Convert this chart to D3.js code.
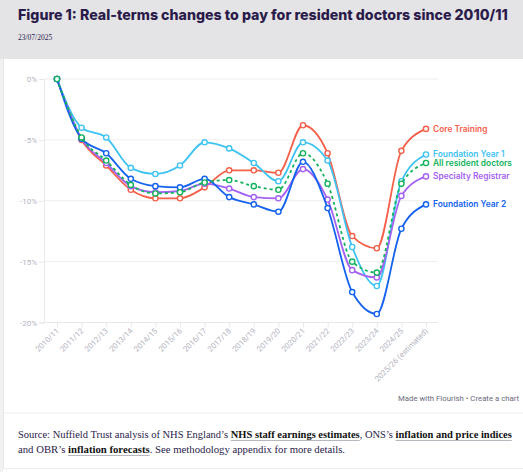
<!DOCTYPE html>
<html><head><meta charset="utf-8">
<script src="https://cdn.jsdelivr.net/npm/d3@7"></script>
<style>
html,body{margin:0;padding:0;background:#fff;overflow:hidden;}
svg{display:block;}
</style></head>
<body>
<svg id="c" width="523" height="472"></svg>
<script>
const years = ["2010/11","2011/12","2012/13","2013/14","2014/15","2015/16","2016/17","2017/18","2018/19","2019/20","2020/21","2021/22","2022/23","2023/24","2024/25","2025/26 (estimated)"];
const coreTraining   = [0,-5.0,-7.1,-9.1,-9.8,-9.8,-8.9,-7.5,-7.5,-7.7,-3.8,-6.1,-12.9,-13.9,-5.9,-4.1];
const foundationY1   = [0,-4.0,-4.8,-7.3,-7.8,-7.1,-5.2,-5.7,-6.9,-8.4,-5.2,-6.7,-13.8,-17.0,-8.4,-6.2];
const specialtyReg   = [0,-4.9,-6.9,-8.8,-9.3,-9.2,-8.6,-9.0,-9.7,-9.8,-7.4,-9.9,-15.7,-16.3,-9.6,-8.0];
const foundationY2   = [0,-4.9,-6.1,-8.2,-8.8,-8.9,-8.2,-9.7,-10.3,-10.9,-6.8,-10.6,-17.5,-19.3,-12.3,-10.3];
const allResident    = [0,-4.8,-6.7,-8.7,-9.4,-9.3,-8.5,-8.3,-8.8,-9.1,-6.1,-8.6,-15.0,-15.9,-8.6,-6.9];
const yTicks = [0,-5,-10,-15,-20];

const series = [
  {name:"Core Training", values:coreTraining, color:"#f4604a", dash:null},
  {name:"Foundation Year 1", values:foundationY1, color:"#3fc3f2", dash:null},
  {name:"Specialty Registrar", values:specialtyReg, color:"#a462f2", dash:null},
  {name:"Foundation Year 2", values:foundationY2, color:"#1462ee", dash:null},
  {name:"All resident doctors", values:allResident, color:"#12b35c", dash:"3,3"}
];

const svg = d3.select("#c");
const dark = "#2a1b4a";

// header
svg.append("rect").attr("x",0).attr("y",0).attr("width",523).attr("height",59).attr("fill","#e4e4e6");
svg.append("rect").attr("x",0).attr("y",59).attr("width",3).attr("height",413).attr("fill","#f1f1f2");
svg.append("line").attr("x1",3.5).attr("x2",3.5).attr("y1",59).attr("y2",468).attr("stroke","#e6e6e8");
const title = svg.append("text").attr("x",18).attr("y",20).attr("fill",dark)
  .attr("font-family","Inter, Roboto, sans-serif").attr("font-weight",800).attr("font-size",15)
  .text("Figure 1: Real-terms changes to pay for resident doctors since 2010/11");
{
  const w = title.node().getComputedTextLength();
  title.attr("font-size", 15*490/w);
}
svg.append("text").attr("x",18).attr("y",39.5).attr("fill",dark)
  .attr("font-family","'Liberation Serif', 'DejaVu Serif', serif").attr("font-size",7.5)
  .text("23/07/2025");

// chart
const x = d3.scalePoint().domain(years).range([57,426]);
const y = d3.scaleLinear().domain([-20,0]).range([322.5,79]);

const g = svg.append("g");
g.selectAll(".grid").data(yTicks).join("line")
  .attr("x1",44).attr("x2",438).attr("y1",d=>y(d)).attr("y2",d=>y(d))
  .attr("stroke","#eeeeef").attr("stroke-width",1);
const yAxis = g.append("g").attr("transform","translate(44,0)")
  .call(d3.axisLeft(y).tickValues(yTicks).tickFormat(d=>d+"%").tickSize(5).tickPadding(2));
yAxis.select(".domain").attr("stroke","#e8e8ea");
yAxis.selectAll(".tick line").attr("stroke","#e8e8ea");
yAxis.selectAll("text").attr("fill","#b4b4bf").attr("font-family","Roboto, 'Noto Sans', sans-serif").attr("font-size",8);
const xAxis = g.append("g").attr("transform","translate(0,322.5)")
  .call(d3.axisBottom(x).tickSize(5).tickSizeOuter(0));
xAxis.select(".domain").attr("stroke","#e8e8ea").attr("d","M44,0H438");
xAxis.selectAll(".tick line").attr("stroke","#e8e8ea");
xAxis.selectAll("text").attr("fill","#b4b4bf").attr("font-family","Roboto, 'Noto Sans', sans-serif").attr("font-size",7.8)
  .attr("text-anchor","end").attr("dy",0).attr("y",0)
  .attr("transform","translate(2,9) rotate(-45)");

const line = d3.line().x((d,i)=>x(years[i])).y(d=>y(d)).curve(d3.curveMonotoneX);
series.forEach(s=>{
  const sg = g.append("g");
  sg.append("path").attr("d",line(s.values)).attr("fill","none").attr("stroke",s.color)
    .attr("stroke-width",1.8).attr("stroke-dasharray",s.dash);
  sg.selectAll("circle").data(s.values).join("circle")
    .attr("cx",(d,i)=>x(years[i])).attr("cy",d=>y(d)).attr("r",2.6)
    .attr("fill","#fff").attr("stroke",s.color).attr("stroke-width",1.4);
  const last = s.values[s.values.length-1];
  sg.append("text").attr("x",433).attr("y",y(last)).attr("dy","0.35em")
    .attr("fill",s.color).attr("font-family","Inter, Roboto, sans-serif").attr("font-weight",600)
    .attr("font-size",8.4).text(s.name);
});

// footer
svg.append("text").attr("x",398).attr("y",401).attr("fill","#6b6b7b")
  .attr("font-family","Roboto, 'Noto Sans', sans-serif").attr("font-size",7.8)
  .text("Made with Flourish \u2022 Create a chart");
svg.append("line").attr("x1",3).attr("x2",523).attr("y1",413).attr("y2",413).attr("stroke","#ececee");
svg.append("line").attr("x1",3).attr("x2",523).attr("y1",468.5).attr("y2",468.5).attr("stroke","#ececee");

const src = svg.append("g").attr("font-family","'Liberation Serif', 'DejaVu Serif', serif").attr("font-size",9.6).attr("fill",dark);
function para(yy, parts, target){
  const t = src.append("text").attr("x",18).attr("y",yy);
  const spans = [];
  parts.forEach(p=>{
    const ts = t.append("tspan").text(p[0]);
    if(p[1]) ts.attr("font-weight",700).attr("fill","#111");
    spans.push([ts,p[1]]);
  });
  const w = t.node().getComputedTextLength();
  t.attr("font-size", 9.6*target/w);
  // underlines for bold links
  let cx = 18;
  spans.forEach(([ts,b])=>{
    const n = ts.node();
    const len = n.getComputedTextLength();
    if(b) src.append("line").attr("x1",cx).attr("x2",cx+len).attr("y1",yy+2.5).attr("y2",yy+2.5)
      .attr("stroke","#b8b8c0").attr("stroke-width",1);
    cx += len;
  });
}
para(438,[["Source: Nuffield Trust analysis of NHS England\u2019s "],["NHS staff earnings estimates",1],[", ONS\u2019s "],["inflation and price indices",1]],494);
para(453,[["and OBR\u2019s "],["inflation forecasts",1],[". See methodology appendix for more details."]],327);
</script>
</body></html>
